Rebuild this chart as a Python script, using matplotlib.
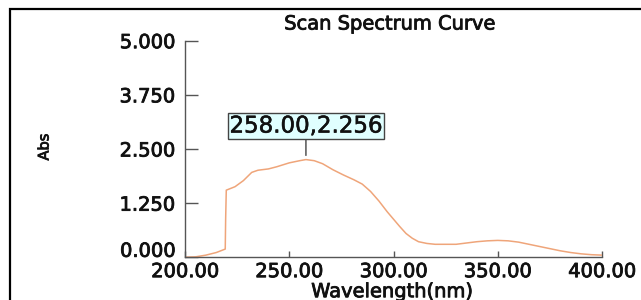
import matplotlib
matplotlib.use("Agg")
import matplotlib.pyplot as plt
import matplotlib.transforms as mtransforms
import matplotlib.patheffects as pe
from matplotlib.patches import Rectangle

# ---- data ----
wavelength = [200, 205, 210, 215, 219.3, 219.5, 219.8, 224, 228, 232, 235, 240,
              244, 250, 255, 258, 262, 266, 271, 276, 281, 285, 289, 293, 297,
              300, 303, 306, 309, 312, 316, 320, 325, 330, 335, 340, 345, 350,
              355, 360, 365, 370, 375, 380, 385, 390, 395, 400]
absorbance = [0.00, 0.01, 0.05, 0.11, 0.19, 0.90, 1.55, 1.63, 1.77, 1.96, 2.01, 2.04,
              2.09, 2.18, 2.23, 2.256, 2.23, 2.16, 2.02, 1.90, 1.79, 1.69, 1.52, 1.30, 1.05,
              0.88, 0.71, 0.55, 0.44, 0.36, 0.32, 0.30, 0.30, 0.30, 0.33, 0.36, 0.38, 0.39,
              0.38, 0.35, 0.30, 0.25, 0.20, 0.15, 0.11, 0.08, 0.06, 0.05]
x_ticks = [200, 250, 300, 350, 400]
x_tick_labels = ["200.00", "250.00", "300.00", "350.00", "400.00"]
y_ticks = [0.0, 1.25, 2.5, 3.75, 5.0]
y_tick_labels = ["0.000", "1.250", "2.500", "3.750", "5.000"]
peak_wl = 258.00
peak_abs = 2.256
title = "Scan Spectrum Curve"
x_label = "Wavelength(nm)"
y_label = "Abs"

W, H = 641, 300
fig = plt.figure(figsize=(W / 100, H / 100), dpi=100)
plt.rcParams['font.family'] = ['DejaVu Sans']
thick = [pe.withStroke(linewidth=0.6, foreground="#111111")]

ax = fig.add_axes([185 / W, 1 - 257.3 / H, (602 - 185) / W, (257.3 - 40.7) / H])
ax.plot(wavelength, absorbance, color="#EFA57A", lw=1.1)
ax.set_xlim(200, 400)
ax.set_ylim(0, 5)

for side in ("top", "right"):
    ax.spines[side].set_visible(False)
for side in ("left", "bottom"):
    ax.spines[side].set_color("#555555")
    ax.spines[side].set_linewidth(1.0)

ax.set_xticks(x_ticks)
ax.set_xticklabels(x_tick_labels, path_effects=thick)
ax.set_yticks(y_ticks)
ax.set_yticklabels(y_tick_labels, path_effects=thick)
ax.tick_params(axis="x", direction="in", length=4.5, width=1, color="#555555",
               labelsize=14, pad=3.5, labelcolor="#111111")
ax.tick_params(axis="y", direction="in", length=9.5, width=1, color="#555555",
               labelsize=14, pad=7, labelcolor="#111111")

# shift the 0.000 label up as in the reference
offset = mtransforms.ScaledTranslation(0, 0.08, fig.dpi_scale_trans)
lab0 = ax.yaxis.get_major_ticks()[0].label1
lab0.set_transform(lab0.get_transform() + offset)

ax.set_xlabel(x_label, fontsize=14, color="#111111", path_effects=thick)
ax.xaxis.set_label_coords((392 - 185) / (602 - 185), (257.3 - 291.7) / (257.3 - 40.7))
ax.xaxis.label.set_va("center")

fig.text(44 / W, 1 - 147 / H, y_label, rotation=90, ha="center", va="center",
         fontsize=10.5, color="#111111", path_effects=thick)
fig.text(390 / W, 1 - 24 / H, title, ha="center", va="center",
         fontsize=14, color="#111111", path_effects=thick)

# peak annotation
ax.annotate(f"{peak_wl:.2f},{peak_abs:.3f}", xy=(peak_wl, peak_abs),
            xytext=(peak_wl, 3.03), textcoords="data",
            ha="center", va="center", fontsize=16.5, color="#111111",
            path_effects=[pe.withStroke(linewidth=0.4, foreground="#111111")],
            bbox=dict(boxstyle="square,pad=0.06", fc="#E0FFFF", ec="#444444", lw=1),
            arrowprops=dict(arrowstyle="-", color="#444444", lw=1, shrinkA=0, shrinkB=3))

# outer frame (continues past right and bottom edges)
fig.patches.append(Rectangle((10 / W, -0.2), 1.2, 1.2 - 9.3 / H,
                             transform=fig.transFigure, fill=False,
                             ec="black", lw=1.6))

fig.savefig("out.png", dpi=100)
